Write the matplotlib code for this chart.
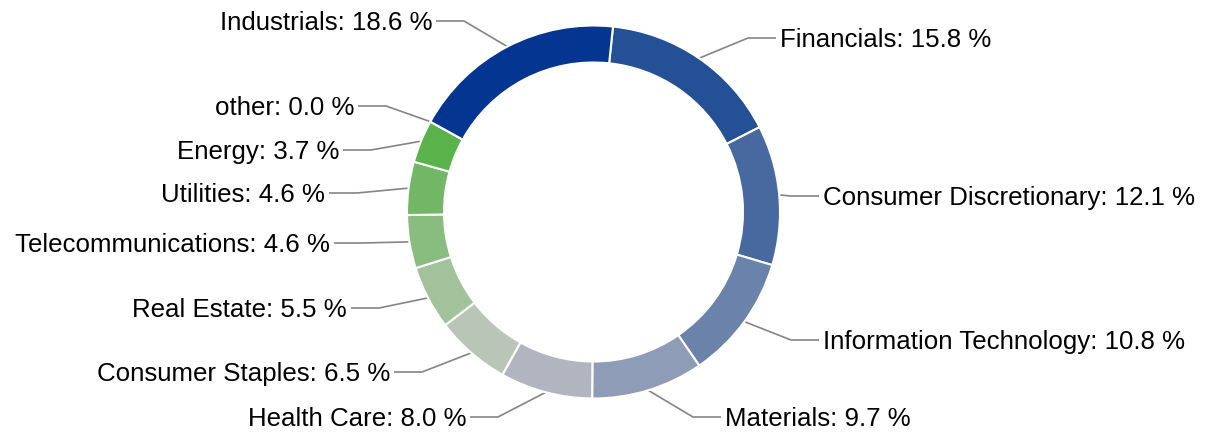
import matplotlib
matplotlib.use("Agg")
import matplotlib.pyplot as plt
import numpy as np

plt.rcParams['font.family'] = ['Liberation Sans', 'DejaVu Sans']

sectors = ["Financials", "Consumer Discretionary", "Information Technology",
           "Materials", "Health Care", "Consumer Staples", "Real Estate",
           "Telecommunications", "Utilities", "Energy", "other", "Industrials"]
weights = [15.8, 12.1, 10.8, 9.7, 8.0, 6.5, 5.5, 4.6, 4.6, 3.7, 0.0, 18.6]
colors = ["#245096", "#48699f", "#6b82ab", "#8e9cb8", "#b0b5c0", "#b9c5b6",
          "#a2c29c", "#89bd80", "#72b766", "#5ab24a", "#5ab24a", "#033591"]

# label text anchors (pixel coords from top-left), side: +1 right, -1 left
label_pos = [(780, 38, 1), (823, 196, 1), (823, 340, 1), (725, 417, 1),
             (466, 417, -1), (390, 372, -1), (347, 308, -1), (330, 243, -1),
             (325, 193, -1), (339, 150, -1), (354, 106, -1), (432, 21, -1)]

W, H = 1208, 434
fig = plt.figure(figsize=(W / 100, H / 100), dpi=100)
ax = fig.add_axes([0, 0, 1, 1])

cx, cy, R = 593.5, H - 212, 186.5
wedges, _ = ax.pie(weights, colors=colors, startangle=84, counterclock=False,
                   center=(cx, cy), radius=R,
                   wedgeprops=dict(width=37, edgecolor="white", linewidth=1.5))
ax.set_xlim(0, W)
ax.set_ylim(0, H)
ax.set_aspect("equal")
ax.axis("off")

for w, name, val, (lx, ly, side) in zip(wedges, sectors, weights, label_pos):
    mid = np.deg2rad((w.theta1 + w.theta2) / 2)
    px, py = cx + R * np.cos(mid), cy + R * np.sin(mid)
    y = H - ly
    end_x = lx - 4 * side
    elbow_x = end_x - 28 * side
    ax.plot([px, elbow_x, end_x], [py, y, y], color="#858585", lw=1.2,
            solid_capstyle="butt", zorder=0)
    ax.text(lx, y - 2, f"{name}: {val:.1f} %", fontsize=18.6, color="black",
            ha="left" if side > 0 else "right", va="center")

plt.savefig("out.png", dpi=100)
